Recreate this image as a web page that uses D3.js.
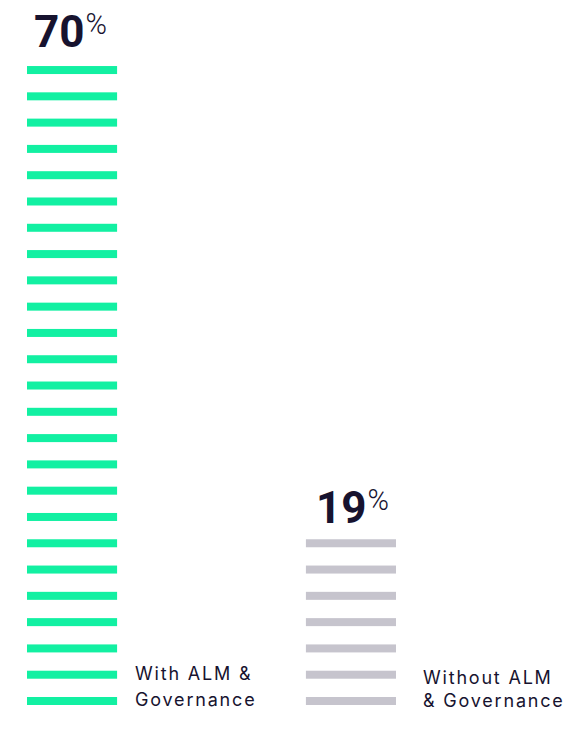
<!DOCTYPE html>
<html>
<head>
<meta charset="utf-8">
<script src="https://cdn.jsdelivr.net/npm/d3@7"></script>
<style>
  html, body { margin: 0; padding: 0; background: #ffffff; }
  svg { display: block; }
</style>
</head>
<body>
<svg id="chart" width="566" height="735"></svg>
<script>
// Share of respondents, by group
const categories = ["With ALM & Governance", "Without ALM & Governance"];
const values = [70, 19];
const labelLines = [["With ALM &", "Governance"], ["Without ALM", "& Governance"]];
const barColors = ["#12f0a2", "#c6c4cd"];

const textColor = "#17132f";
const perDash = 2.8;          // percentage points represented by one dash
const dashStep = 26.29;       // vertical spacing between dash centres
const dashHeight = 8;
const baseY = 701;            // centre of the lowest dash

const svg = d3.select("#chart");

const x = d3.scaleBand()
  .domain(categories)
  .range([27, 396])
  .paddingInner(0.677)
  .paddingOuter(0);

const y = d3.scaleLinear()
  .domain([0, 100])
  .range([baseY, baseY - (100 / perDash) * dashStep]);

const groups = svg.selectAll("g.bar")
  .data(categories.map((c, i) => ({ c, v: values[i], color: barColors[i], lines: labelLines[i], i })))
  .join("g")
  .attr("class", "bar");

// stacked dashes
groups.each(function (d) {
  const n = Math.round(d.v / perDash);
  d.n = n;
  d3.select(this).selectAll("rect")
    .data(d3.range(n))
    .join("rect")
    .attr("x", x(d.c))
    .attr("width", x.bandwidth())
    .attr("y", k => y(k * perDash) - dashHeight / 2)
    .attr("height", dashHeight)
    .attr("fill", d.color);
});

// value labels above the top dash
const valueText = groups.append("text")
  .attr("x", d => x(d.c) + 7 + (d.i === 1 ? 3 : 0))
  .attr("y", d => y((d.n - 1) * perDash) - (d.i === 0 ? 23 : 20))
  .attr("fill", textColor)
  .style("font-family", "Roboto, sans-serif");

valueText.append("tspan")
  .style("font-size", "44px")
  .style("font-weight", 700)
  .text(d => d.v);

valueText.append("tspan")
  .attr("dx", 1)
  .attr("dy", -13)
  .style("font-size", "29px")
  .style("font-weight", 300)
  .text("%");

// category labels beside the lowest dashes
const labelX = d => x(d.c) + x.bandwidth() + (d.i === 0 ? 18 : 27);

const catText = groups.append("text")
  .attr("x", labelX)
  .attr("y", d => d.i === 0 ? 680 : 684)
  .attr("fill", textColor)
  .style("font-family", "Inter, sans-serif")
  .style("font-size", "18px")
  .style("letter-spacing", "1.8px");

catText.selectAll("tspan")
  .data(d => d.lines.map((t, j) => ({ t, j, i: d.i, x: labelX(d) })))
  .join("tspan")
  .attr("x", t => t.x)
  .attr("dy", t => t.j === 0 ? 0 : (t.i === 0 ? 26 : 23))
  .text(t => t.t);
</script>
</body>
</html>
